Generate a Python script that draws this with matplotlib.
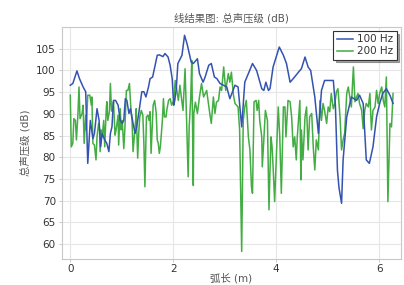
import matplotlib
matplotlib.use("Agg")
import matplotlib.pyplot as plt

plt.rcParams['font.family'] = ['DejaVu Sans', 'Noto Sans CJK SC']

title = "线结果图: 总声压级 (dB)"
xlabel = "弧长 (m)"
ylabel = "总声压级 (dB)"
series_names = ["100 Hz", "200 Hz"]

s_100 = [0.00, 0.05, 0.13, 0.18, 0.25, 0.30, 0.34, 0.39, 0.44, 0.47, 0.52, 0.56, 0.59, 0.62, 0.67,
         0.71, 0.75, 0.78, 0.81, 0.84, 0.88, 0.93, 0.97, 1.01, 1.04, 1.07, 1.10, 1.14, 1.17, 1.22,
         1.26, 1.29, 1.33, 1.39, 1.43, 1.47, 1.52, 1.55, 1.60, 1.69, 1.73, 1.80, 1.84, 1.90, 1.94,
         1.98, 2.01, 2.03, 2.06, 2.09, 2.17, 2.22, 2.27, 2.35, 2.39, 2.47, 2.51, 2.58, 2.62, 2.69,
         2.74, 2.80, 2.85, 2.91, 3.04, 3.10, 3.20, 3.26, 3.33, 3.39, 3.46, 3.54, 3.62, 3.72, 3.76,
         3.80, 3.85, 3.88, 3.94, 4.06, 4.14, 4.20, 4.27, 4.33, 4.46, 4.49, 4.56, 4.62, 4.67, 4.75,
         4.82, 4.88, 4.94, 5.11, 5.15, 5.19, 5.22, 5.27, 5.30, 5.37, 5.46, 5.56, 5.62, 5.69, 5.75,
         5.81, 5.88, 5.95, 6.01, 6.07, 6.14, 6.21, 6.27]
L_100 = [96.6, 97.0, 99.9, 98.1, 96.2, 95.1, 78.6, 88.5, 84.3, 85.5, 91.2, 88.5, 82.4, 85.5, 84.0,
         83.2, 81.3, 85.5, 87.0, 93.1, 93.1, 92.0, 88.5, 87.8, 88.5, 93.5, 93.1, 90.1, 91.2, 87.8,
         85.5, 87.0, 90.1, 95.1, 95.1, 93.9, 96.2, 98.1, 98.5, 103.5, 103.6, 103.2, 103.9, 103.1, 101.2,
         98.1, 92.0, 93.1, 95.8, 101.6, 103.5, 108.1, 106.1, 101.9, 101.6, 102.7, 99.3, 97.3, 98.5, 101.2,
         101.6, 98.5, 98.1, 97.0, 96.2, 93.5, 96.6, 96.2, 87.0, 97.3, 99.3, 101.6, 100.0, 95.8, 95.4,
         97.3, 95.4, 95.8, 100.8, 105.4, 103.5, 101.6, 97.3, 98.1, 100.0, 100.4, 103.1, 100.8, 100.0, 93.9,
         85.5, 95.4, 97.7, 97.7, 92.0, 77.0, 73.0, 69.4, 79.4, 89.3, 93.9, 93.1, 94.3, 92.4, 79.4,
         78.6, 82.4, 89.3, 92.4, 94.7, 95.8, 94.3, 92.4]

s_200 = [0.00, 0.02, 0.05, 0.07, 0.10, 0.12, 0.15, 0.17, 0.19, 0.23, 0.25, 0.27, 0.30, 0.31, 0.34,
         0.38, 0.41, 0.42, 0.44, 0.47, 0.50, 0.52, 0.55, 0.57, 0.58, 0.60, 0.62, 0.65, 0.67, 0.70,
         0.71, 0.73, 0.76, 0.78, 0.80, 0.82, 0.84, 0.87, 0.89, 0.93, 0.94, 0.96, 0.97, 0.99, 1.01,
         1.04, 1.06, 1.09, 1.12, 1.15, 1.18, 1.20, 1.22, 1.25, 1.27, 1.28, 1.31, 1.33, 1.35, 1.38,
         1.41, 1.43, 1.45, 1.48, 1.51, 1.53, 1.55, 1.57, 1.61, 1.64, 1.67, 1.69, 1.71, 1.73, 1.75,
         1.79, 1.81, 1.83, 1.86, 1.88, 1.91, 1.94, 1.97, 2.01, 2.04, 2.10, 2.13, 2.19, 2.23, 2.26,
         2.29, 2.31, 2.34, 2.36, 2.39, 2.40, 2.43, 2.47, 2.51, 2.55, 2.59, 2.65, 2.71, 2.74, 2.78,
         2.81, 2.84, 2.88, 2.91, 2.94, 2.98, 3.02, 3.07, 3.10, 3.13, 3.17, 3.20, 3.26, 3.29, 3.33,
         3.36, 3.39, 3.42, 3.46, 3.49, 3.52, 3.54, 3.57, 3.61, 3.63, 3.66, 3.68, 3.72, 3.73, 3.76,
         3.79, 3.83, 3.86, 3.88, 3.90, 3.92, 3.94, 3.97, 4.01, 4.04, 4.07, 4.10, 4.14, 4.17, 4.19,
         4.23, 4.27, 4.30, 4.33, 4.36, 4.39, 4.41, 4.46, 4.48, 4.49, 4.52, 4.56, 4.59, 4.62, 4.65,
         4.69, 4.72, 4.75, 4.78, 4.82, 4.85, 4.88, 4.91, 4.94, 4.98, 5.01, 5.04, 5.07, 5.11, 5.14,
         5.17, 5.20, 5.24, 5.27, 5.30, 5.33, 5.37, 5.40, 5.43, 5.46, 5.50, 5.53, 5.56, 5.59, 5.62,
         5.66, 5.69, 5.72, 5.75, 5.79, 5.82, 5.85, 5.88, 5.92, 5.95, 5.98, 6.01, 6.05, 6.08, 6.11,
         6.14, 6.17, 6.21, 6.24, 6.27]
L_200 = [94.3, 82.4, 83.2, 88.9, 88.5, 84.0, 90.1, 96.2, 88.9, 90.1, 92.0, 83.2, 89.7, 86.3, 94.3,
         94.3, 92.0, 93.9, 83.2, 82.8, 79.4, 84.7, 87.8, 86.3, 81.3, 86.3, 84.7, 88.5, 82.4, 91.2,
         92.8, 88.5, 90.5, 97.0, 90.8, 90.5, 92.8, 85.1, 86.3, 89.7, 82.8, 88.5, 91.2, 86.3, 88.5,
         82.0, 86.3, 95.4, 95.4, 97.0, 90.8, 88.5, 81.3, 85.5, 88.5, 91.2, 79.8, 85.5, 89.3, 90.8,
         89.7, 83.2, 73.2, 89.3, 89.7, 88.5, 90.5, 80.9, 92.0, 93.1, 90.1, 84.0, 83.2, 80.9, 82.4,
         88.5, 93.5, 89.3, 89.3, 91.2, 93.1, 93.5, 92.0, 93.1, 97.7, 93.1, 96.6, 90.8, 100.4, 88.5,
         75.5, 87.0, 93.5, 102.3, 73.5, 90.1, 92.7, 90.1, 93.9, 97.0, 93.9, 95.4, 90.1, 87.8, 93.9,
         90.1, 92.7, 93.1, 96.2, 95.4, 100.8, 95.4, 99.3, 97.3, 99.6, 94.3, 92.4, 91.6, 86.3, 58.3,
         88.5, 91.6, 93.1, 84.7, 81.7, 73.2, 71.7, 92.8, 93.1, 90.8, 93.1, 88.5, 84.7, 77.8, 84.0,
         90.8, 88.5, 67.9, 77.1, 84.7, 82.4, 77.8, 69.8, 82.4, 91.6, 84.7, 71.7, 91.6, 91.6, 84.7,
         93.1, 92.8, 89.3, 82.4, 84.7, 79.4, 84.7, 93.1, 74.8, 86.3, 79.4, 89.3, 91.6, 81.7, 89.3,
         90.1, 82.4, 77.1, 84.0, 81.7, 93.1, 88.5, 92.4, 90.8, 87.8, 91.6, 90.5, 94.7, 91.2, 92.4,
         95.1, 95.8, 89.3, 81.7, 84.0, 85.5, 94.7, 96.2, 93.9, 91.6, 100.8, 92.8, 93.9, 94.7, 92.4,
         90.8, 86.6, 90.8, 92.4, 91.6, 94.7, 86.3, 90.8, 91.6, 95.4, 92.4, 94.7, 96.2, 93.1, 91.6,
         98.5, 69.8, 87.8, 87.0, 94.7]

x_ticks = [0, 2, 4, 6]
y_ticks = [60, 65, 70, 75, 80, 85, 90, 95, 100, 105]

fig = plt.figure(figsize=(4.04, 2.85), dpi=100)
ax = fig.add_axes([0.1535, 0.0902, 0.8385, 0.8148])

ax.plot(s_100, L_100, color='#3453b0', lw=1.1, label=series_names[0], zorder=3)
ax.plot(s_200, L_200, color='#43ad43', lw=1.1, label=series_names[1], zorder=2)

ax.set_xlim(-0.16, 6.42)
ax.set_ylim(56.5, 110)
ax.set_xticks(x_ticks)
ax.set_yticks(y_ticks)
ax.grid(True, color='#e6e6e6', lw=0.8)
ax.set_axisbelow(True)
for sp in ax.spines.values():
    sp.set_color('#c8c8c8')
    sp.set_linewidth(0.8)
ax.tick_params(axis='both', labelsize=7.5, colors='#c0c0c0', labelcolor='#333333',
               length=2.5, width=0.6, pad=2)
ax.tick_params(axis='x', pad=1)

ax.set_title(title, fontsize=7.5, color='#555555', pad=4)
ax.set_xlabel(xlabel, fontsize=7.5, color='#555555', labelpad=-1)
ax.set_ylabel(ylabel, fontsize=7.5, color='#555555', labelpad=4)

leg = ax.legend(loc='upper right', fontsize=7.5, frameon=True, fancybox=False, shadow=True,
                borderpad=0.3, handlelength=1.6, handletextpad=0.4, labelspacing=0.2,
                borderaxespad=0.4)
leg.get_frame().set_edgecolor('#333333')
leg.get_frame().set_linewidth(0.8)
for t in leg.get_texts():
    t.set_color('#333333')

fig.savefig('out.png', dpi=100)
